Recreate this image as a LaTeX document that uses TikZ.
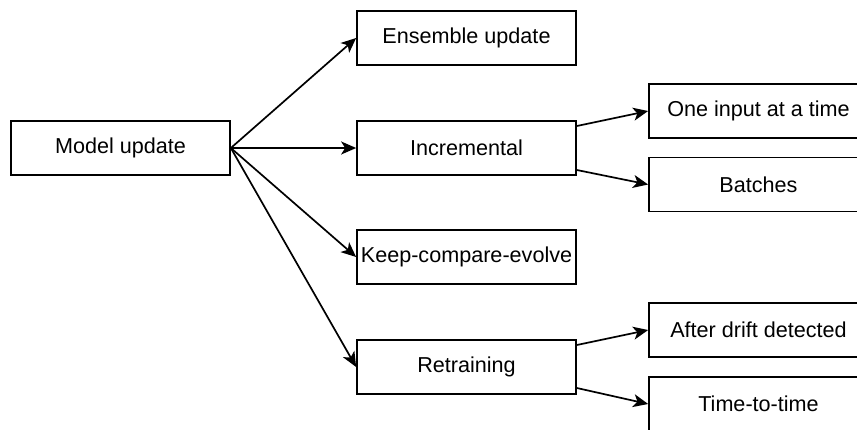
\documentclass[tikz,border=0pt]{standalone}
\usepackage{fontspec}
\setmainfont{Liberation Sans}
\usetikzlibrary{arrows.meta}
\begin{document}
\begin{tikzpicture}[x=1pt,y=-1pt,
  box/.style={draw, line width=1.7pt, rectangle, minimum width=219pt, minimum height=54pt, inner sep=0pt,
    font=\fontsize{21.6}{26}\selectfont},
  conn/.style={line width=1.7pt, -{Stealth[length=15pt,width=13pt,inset=4pt]}}]
\useasboundingbox (0,0) rectangle (857,429);
\clip (0,0) rectangle (857,429);
\fill[white] (0,0) rectangle (857,429);
\node[box] (model) at (120.5,148) {Model update};
\node[box] (ens) at (466.5,38) {Ensemble update};
\node[box] (inc) at (466.5,148) {Incremental};
\node[box] (kce) at (466.5,257) {Keep-compare-evolve};
\node[box] (ret) at (466.5,367) {Retraining};
\node[box] (one) at (758.5,111) {One input at a time};
\node[box] (bat) at (758.5,184.5) {Batches};
\node[box] (aft) at (758.5,330) {After drift detected};
\node[box] (tim) at (758.5,404) {Time-to-time};
\draw[conn] (model.east) -- (ens.west);
\draw[conn] (model.east) -- (inc.west);
\draw[conn] (model.east) -- (kce.west);
\draw[conn] (model.east) -- (ret.west);
\draw[conn] ([yshift=22pt]inc.east) -- (one.west);
\draw[conn] ([yshift=-22pt]inc.east) -- (bat.west);
\draw[conn] ([yshift=22pt]ret.east) -- (aft.west);
\draw[conn] ([yshift=-21pt]ret.east) -- (tim.west);
\end{tikzpicture}
\end{document}
